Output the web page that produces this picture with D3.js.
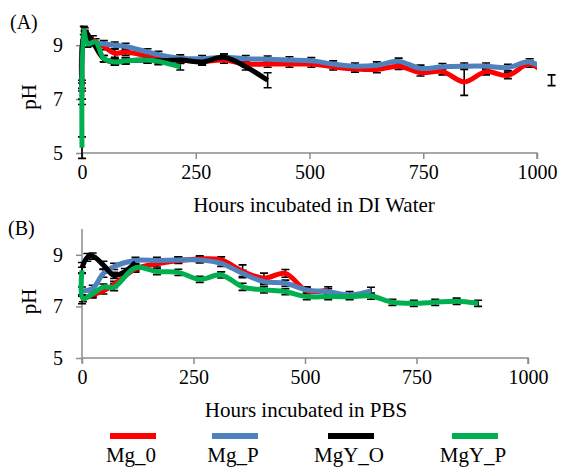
<!DOCTYPE html>
<html><head><meta charset="utf-8">
<script src="https://cdn.jsdelivr.net/npm/d3@7"></script>
<style>body{margin:0;background:#fff}svg{display:block}text{font-family:"Liberation Serif","Times New Roman",Times,serif;fill:#000}</style>
</head><body><svg id="c" width="561" height="468"></svg>
<script>
// ---------- DATA ----------
const seriesNames = ["Mg_0", "Mg_P", "MgY_O", "MgY_P"];
const seriesColors = ["#ff0000", "#4f81bd", "#000000", "#00b050"];
const xTicks = [0, 250, 500, 750, 1000];
const yTicks = [5, 7, 9];

// (A) DI Water
const aHoursMg0 = [0,6,24,48,72,96,144,168,216,264,312,360,408,456,504,552,600,648,696,744,792,840,888,936,984,1032];
const aMg0      = [7.3,9.35,9.2,8.95,8.7,8.75,8.6,8.55,8.45,8.4,8.45,8.3,8.3,8.3,8.3,8.2,8.12,8.1,8.22,7.98,8.02,7.64,8.02,7.88,8.3,7.7];
const aErrMg0   = [0.3,0.2,0.15,0.12,0.15,0.12,0.12,0.12,0.12,0.12,0.12,0.12,0.12,0.12,0.12,0.12,0.12,0.12,0.12,0.12,0.12,0.5,0.12,0.12,0.12,0.2];
const aHoursMgP = [0,6,24,48,72,96,144,168,216,264,312,360,408,456,504,552,600,648,696,744,792,840,888,936,984,1032];
const aMgP      = [7.1,9.35,9.1,9.05,9.0,8.95,8.75,8.65,8.52,8.5,8.55,8.5,8.48,8.45,8.42,8.3,8.22,8.26,8.4,8.14,8.2,8.22,8.22,8.17,8.38,7.9];
const aErrMgP   = [0.3,0.15,0.12,0.12,0.12,0.12,0.12,0.12,0.12,0.12,0.12,0.12,0.12,0.12,0.12,0.12,0.12,0.12,0.12,0.12,0.12,0.12,0.12,0.12,0.12,0.1];
const aHoursMgYO = [0,6,24,48,72,96,144,168,216,264,312,360,408];
const aMgYO      = [7.5,9.5,9.1,8.5,8.38,8.42,8.45,8.42,8.45,8.38,8.55,8.2,7.7];
const aErrMgYO   = [0.2,0.15,0.12,0.12,0.12,0.12,0.12,0.12,0.12,0.12,0.12,0.12,0.28];
const aHoursMgYP = [0,4,12,30,48,72,96,144,168,216];
const aMgYP      = [5.2,9.55,9.05,9.12,8.5,8.38,8.42,8.45,8.4,8.2];
const aErrMgYP   = [0.4,0.15,0.12,0.12,0.12,0.12,0.12,0.12,0.12,0.12];

// (B) PBS
const bHoursMg0 = [0,24,48,72,120,168,216,264,312,360,408,456,504,552];
const bMg0      = [7.25,7.45,7.6,7.85,8.45,8.65,8.78,8.84,8.8,8.36,8.09,8.28,7.6,7.64];
const bErrMg0   = [0.15,0.12,0.12,0.12,0.12,0.12,0.12,0.12,0.12,0.25,0.2,0.15,0.12,0.12];
const bHoursMgP = [0,24,48,72,120,168,216,264,312,360,408,456,504,552,600,648];
const bMgP      = [7.6,7.7,8.28,8.55,8.78,8.78,8.8,8.8,8.67,8.28,7.96,7.9,7.64,7.57,7.44,7.6];
const bErrMgP   = [0.15,0.12,0.15,0.12,0.12,0.12,0.12,0.12,0.12,0.12,0.12,0.12,0.12,0.12,0.14,0.14];
const bHoursMgYO = [0,12,24,48,72,96,120];
const bMgYO      = [8.5,8.9,8.95,8.6,8.2,8.35,8.7];
const bErrMgYO   = [0.2,0.15,0.12,0.15,0.12,0.12,0.12];
const bHoursMgYP = [0,2,24,48,72,120,168,216,264,312,360,408,456,504,552,600,648,696,744,792,840,888];
const bMgYP      = [8.4,7.3,7.5,7.75,7.75,8.5,8.35,8.32,8.05,8.22,7.76,7.64,7.57,7.38,7.38,7.38,7.4,7.16,7.12,7.16,7.2,7.12];
const bErrMgYP   = [0.12,0.12,0.12,0.12,0.14,0.12,0.12,0.12,0.12,0.12,0.14,0.12,0.12,0.12,0.12,0.12,0.12,0.12,0.12,0.12,0.12,0.12];

// ---------- DRAW ----------
const svg = d3.select("#c");
const axisColor = "#8c8c8c";

function errPath(cx, y1, y2) {
  return `M${cx},${y1}V${y2}M${cx-4},${y1}H${cx+4}M${cx-4},${y2}H${cx+4}`;
}

function panel(cfg) {
  const x = d3.scaleLinear().domain([0, 1000]).range(cfg.xr);
  const y = d3.scaleLinear().domain(cfg.yd).range(cfg.yr);
  const g = svg.append("g");
  const clipId = "clip" + cfg.id;
  svg.append("clipPath").attr("id", clipId).append("rect")
    .attr("x", cfg.xr[0] - 4).attr("y", cfg.yr[1] - 4)
    .attr("width", cfg.xr[1] - cfg.xr[0] + 4).attr("height", cfg.yr[0] - cfg.yr[1] + 8);

  const xa = g.append("g").attr("transform", `translate(0,${cfg.yr[0]})`)
    .call(d3.axisBottom(x).tickValues(xTicks).tickSize(6).tickPadding(6).tickFormat(d3.format("d")));
  const ya = g.append("g").attr("transform", `translate(${cfg.xr[0]},0)`)
    .call(d3.axisLeft(y).tickValues(yTicks).tickSize(6).tickPadding(13).tickFormat(d3.format("d")));
  [xa, ya].forEach(a => {
    a.attr("font-family", null);
    a.select(".domain").attr("stroke", axisColor).attr("stroke-width", 1.5);
    a.selectAll(".tick line").attr("stroke", axisColor).attr("stroke-width", 1.5);
    a.selectAll("text").attr("font-size", 20).attr("fill", "#000");
  });
  xa.select(".domain").attr("d", `M${cfg.xr[0]},0H${cfg.xr[1]}V6`);
  ya.select(".domain").attr("d", `M0,${cfg.yr[1]}V${cfg.yr[0] + 5}`);

  // error bars (beneath the lines)
  const eb = g.append("g");
  cfg.series.forEach(s => {
    s.h.forEach((h, i) => {
      const cx = x(h), y1 = y(s.v[i] - s.e[i]), y2 = y(s.v[i] + s.e[i]);
      if (h > 1000 && s.e[i] < 0.15) return;
      eb.append("path").attr("d", errPath(cx, y1, y2))
        .attr("stroke", "#000").attr("stroke-width", 1.6).attr("fill", "none");
    });
  });

  const plot = g.append("g").attr("clip-path", `url(#${clipId})`);
  const line = d3.line().x(d => x(d[0])).y(d => y(d[1])).curve(d3.curveCatmullRom.alpha(0.5));
  cfg.series.forEach((s, k) => {
    plot.append("path").datum(s.h.map((h, i) => [h, s.v[i]]))
      .attr("d", line).attr("fill", "none").attr("stroke", seriesColors[k])
      .attr("stroke-width", 5).attr("stroke-linejoin", "round");
  });

  svg.append("text").attr("x", cfg.labelX).attr("y", cfg.labelY).attr("font-size", 20).text(cfg.label);
  svg.append("text").attr("transform", `translate(36,${(cfg.yr[0] + cfg.yr[1]) / 2 + 8}) rotate(-90)`)
    .attr("text-anchor", "middle").attr("font-size", 21).text("pH");
  svg.append("text").attr("x", cfg.titleX).attr("y", cfg.titleY).attr("text-anchor", "middle")
    .attr("font-size", 21).text(cfg.title);
}

panel({
  id: "A", xr: [82, 537], yd: [5, 9.75], yr: [153, 25],
  label: "(A)", labelX: 10, labelY: 29, title: "Hours incubated in DI Water", titleX: 314, titleY: 212,
  series: [
    {h: aHoursMg0, v: aMg0, e: aErrMg0},
    {h: aHoursMgP, v: aMgP, e: aErrMgP},
    {h: aHoursMgYO, v: aMgYO, e: aErrMgYO},
    {h: aHoursMgYP, v: aMgYP, e: aErrMgYP}
  ]
});
panel({
  id: "B", xr: [82, 528], yd: [5, 10], yr: [358, 229],
  label: "(B)", labelX: 8, labelY: 235, title: "Hours incubated in PBS", titleX: 306, titleY: 417,
  series: [
    {h: bHoursMg0, v: bMg0, e: bErrMg0},
    {h: bHoursMgP, v: bMgP, e: bErrMgP},
    {h: bHoursMgYO, v: bMgYO, e: bErrMgYO},
    {h: bHoursMgYP, v: bMgYP, e: bErrMgYP}
  ]
});

// legend
const legendX = [133, 235, 351, 475];
seriesNames.forEach((n, i) => {
  svg.append("line").attr("x1", legendX[i] - 23).attr("x2", legendX[i] + 23)
    .attr("y1", 436).attr("y2", 436).attr("stroke", seriesColors[i]).attr("stroke-width", 6);
  svg.append("text").attr("x", legendX[i] - 2).attr("y", 462).attr("text-anchor", "middle")
    .attr("font-size", 21).text(n);
});
</script></body></html>
